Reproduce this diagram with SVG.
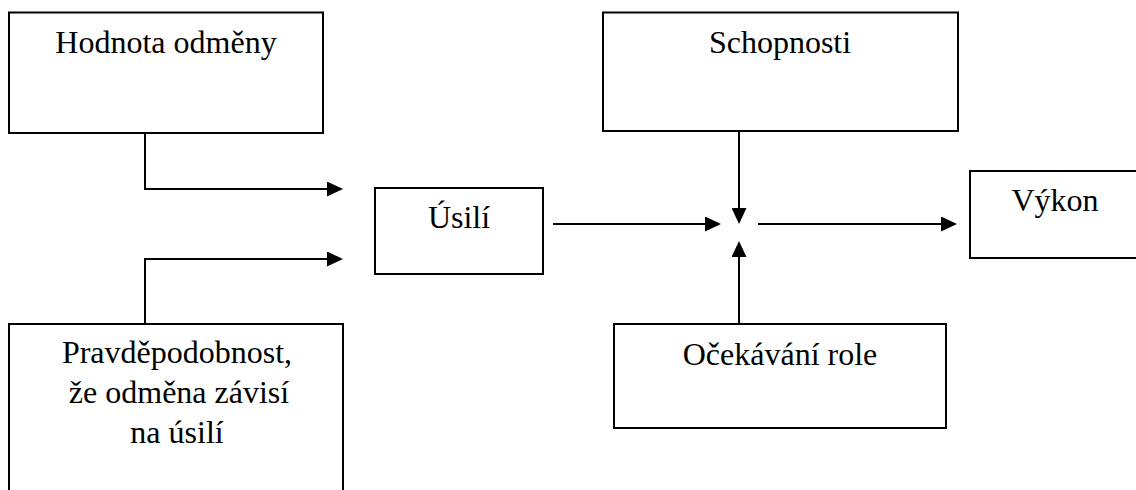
<svg xmlns="http://www.w3.org/2000/svg" width="1136" height="490" viewBox="0 0 1136 490">
<style>
.box{fill:#fff;stroke:#000;stroke-width:2}
.lbl{font-family:"Liberation Serif","Times New Roman",serif;font-size:32px;fill:#000;text-anchor:middle}
.con{fill:none;stroke:#000;stroke-width:2}
</style>
<defs>
<marker id="ah" markerUnits="userSpaceOnUse" markerWidth="16" markerHeight="15" refX="8" refY="7.5" orient="auto">
<path d="M0,0 L16,7.5 L0,15 Z" fill="#000"/>
</marker>
</defs>
<rect width="1136" height="490" fill="#fff"/>
<g id="hodnota">
<rect class="box" x="9" y="12.5" width="314" height="120.5"/>
<text class="lbl" x="166" y="53">Hodnota odměny</text>
</g>
<g id="pravdepodobnost">
<rect class="box" x="9" y="324" width="334" height="190"/>
<text class="lbl" x="177" y="363">Pravděpodobnost,</text>
<text class="lbl" x="179" y="403">že odměna závisí</text>
<text class="lbl" x="177" y="443">na úsilí</text>
</g>
<g id="usili">
<rect class="box" x="375" y="188" width="168" height="86"/>
<text class="lbl" x="459" y="228">Úsilí</text>
</g>
<g id="schopnosti">
<rect class="box" x="603" y="12.5" width="355" height="118.5"/>
<text class="lbl" x="780" y="53">Schopnosti</text>
</g>
<g id="ocekavani">
<rect class="box" x="614" y="324" width="332" height="104"/>
<text class="lbl" x="780" y="365">Očekávání role</text>
</g>
<g id="vykon">
<rect class="box" x="970" y="171" width="172" height="87"/>
<text class="lbl" x="1055" y="211">Výkon</text>
</g>
<g id="connectors">
<path class="con" d="M145,133 V189 H335" marker-end="url(#ah)"/>
<path class="con" d="M145,324 V259 H335" marker-end="url(#ah)"/>
<path class="con" d="M553,224 H713" marker-end="url(#ah)"/>
<path class="con" d="M739,131 V216" marker-end="url(#ah)"/>
<path class="con" d="M739,324 V249" marker-end="url(#ah)"/>
<path class="con" d="M758,224 H949" marker-end="url(#ah)"/>
</g>
</svg>
